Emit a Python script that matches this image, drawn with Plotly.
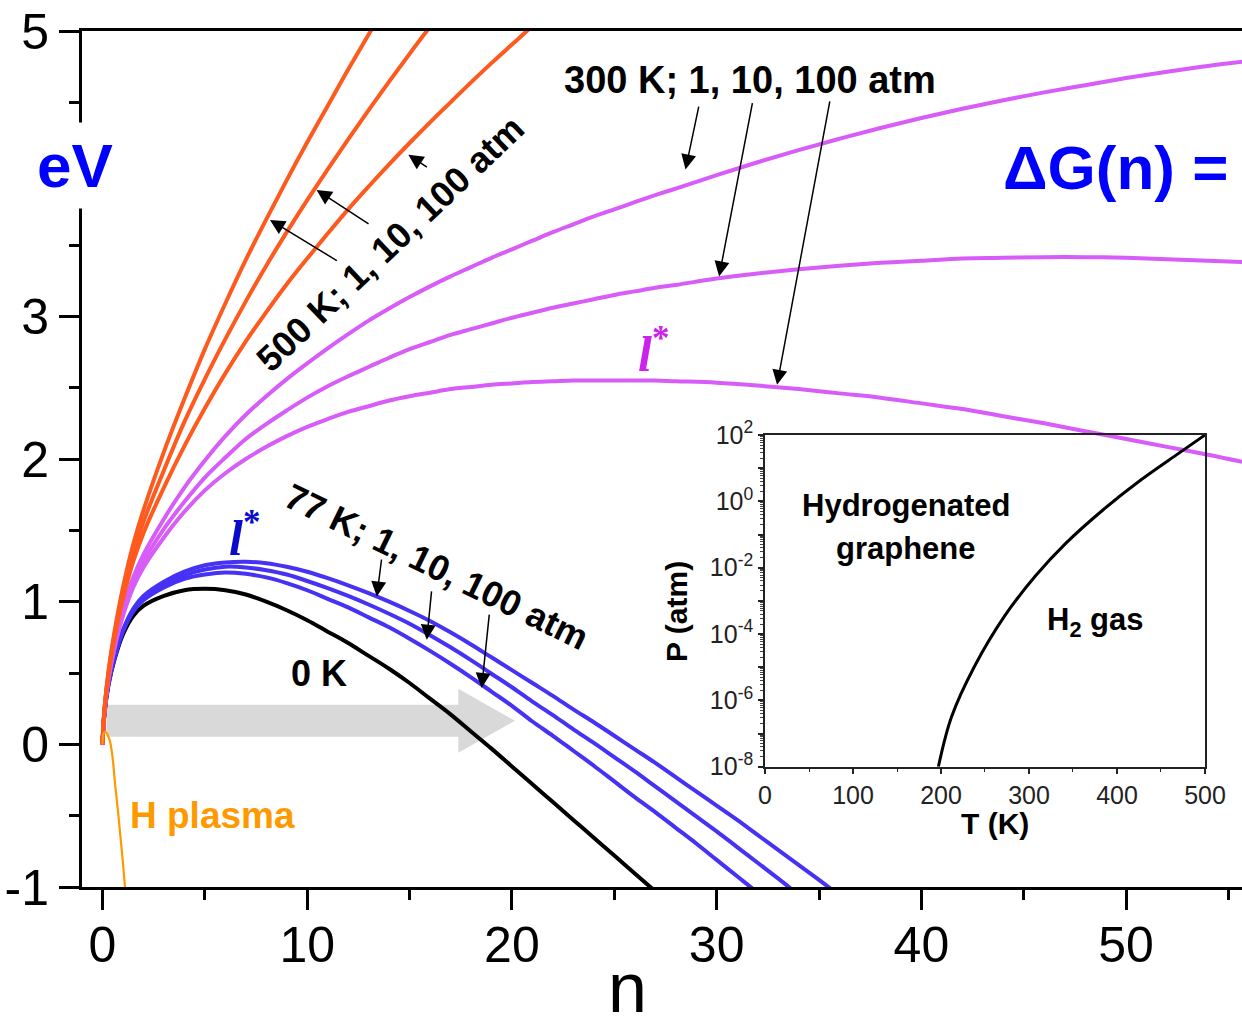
import plotly.graph_objects as go

# ---------------- data ----------------
N_0K = [0, 0.1, 0.3, 0.6, 1, 1.5, 2, 3, 4, 5, 6, 7, 8, 9, 10, 11, 12, 13, 14, 15,
        16, 17, 18, 19, 20, 21, 22, 23, 24, 25, 26, 27]
DG_0K = [0, 0.22, 0.42, 0.60, 0.77, 0.90, 0.97, 1.04, 1.08, 1.09, 1.08, 1.05, 1.00, 0.94,
         0.87, 0.79, 0.71, 0.62, 0.53, 0.43, 0.32, 0.21, 0.09, -0.03, -0.155, -0.28,
         -0.405, -0.53, -0.655, -0.78, -0.905, -1.03]

N_77K = [0, 0.1, 0.3, 0.6, 1, 1.5, 2, 3, 4, 5, 6, 7, 8, 9, 10, 11, 12, 13, 14, 15,
         16, 17, 18, 19, 20, 21, 22, 23, 24, 25, 26, 27, 28, 29, 30, 31, 32, 33, 34, 35, 36]
DG_77K_1ATM = [0, 0.22, 0.43, 0.62, 0.80, 0.95, 1.04, 1.14, 1.21, 1.255, 1.275, 1.28, 1.27,
               1.245, 1.21, 1.165, 1.115, 1.06, 1.00, 0.935, 0.865, 0.785, 0.70, 0.61, 0.52,
               0.43, 0.34, 0.245, 0.155, 0.06, -0.035, -0.13, -0.23, -0.33, -0.43, -0.53,
               -0.635, -0.74, -0.845, -0.95, -1.06]
DG_77K_10ATM = [0, 0.22, 0.43, 0.62, 0.80, 0.94, 1.03, 1.12, 1.185, 1.225, 1.245, 1.24,
                1.22, 1.19, 1.145, 1.095, 1.04, 0.98, 0.915, 0.845, 0.765, 0.68, 0.59, 0.495,
                0.40, 0.30, 0.205, 0.105, 0.01, -0.09, -0.19, -0.295, -0.40, -0.505, -0.61,
                -0.72, -0.83, -0.94, -1.055, -1.17, -1.28]
DG_77K_100ATM = [0, 0.22, 0.43, 0.61, 0.79, 0.93, 1.01, 1.10, 1.16, 1.19, 1.205, 1.195,
                 1.17, 1.13, 1.08, 1.02, 0.96, 0.89, 0.82, 0.74, 0.655, 0.565, 0.47, 0.37,
                 0.27, 0.16, 0.06, -0.045, -0.15, -0.26, -0.37, -0.475, -0.585, -0.695,
                 -0.81, -0.925, -1.04, -1.16, -1.28, -1.40, -1.52]

N_300K = [0, 0.1, 0.3, 0.6, 1, 1.5, 2, 3, 4, 5, 6, 7, 8, 9, 10, 11, 12, 13, 14, 15, 16,
          17, 18, 19, 20, 21, 22, 23, 24, 25, 26, 27, 28, 30, 32, 34, 36, 38, 40, 42, 44,
          46, 48, 50, 52, 54, 56]
DG_300K_1ATM = [0, 0.24, 0.47, 0.71, 0.95, 1.17, 1.33, 1.58, 1.80, 1.99, 2.16, 2.31, 2.44,
                2.56, 2.67, 2.775, 2.875, 2.97, 3.055, 3.135, 3.21, 3.28, 3.345, 3.41, 3.47,
                3.53, 3.59, 3.645, 3.70, 3.75, 3.80, 3.85, 3.895, 3.99, 4.08, 4.165, 4.245,
                4.32, 4.39, 4.455, 4.515, 4.57, 4.62, 4.67, 4.715, 4.755, 4.79]
DG_300K_10ATM = [0, 0.24, 0.47, 0.69, 0.93, 1.13, 1.28, 1.51, 1.70, 1.87, 2.01, 2.14, 2.245,
                 2.34, 2.43, 2.51, 2.58, 2.645, 2.71, 2.77, 2.82, 2.87, 2.91, 2.95, 2.99, 3.025,
                 3.06, 3.09, 3.12, 3.15, 3.175, 3.20, 3.22, 3.265, 3.30, 3.33, 3.355, 3.375,
                 3.39, 3.405, 3.41, 3.415, 3.415, 3.41, 3.40, 3.39, 3.38]
DG_300K_100ATM = [0, 0.23, 0.46, 0.68, 0.90, 1.10, 1.24, 1.45, 1.63, 1.78, 1.90, 2.00, 2.085,
                  2.16, 2.225, 2.28, 2.33, 2.37, 2.41, 2.44, 2.465, 2.49, 2.505, 2.52, 2.53,
                  2.54, 2.545, 2.55, 2.55, 2.55, 2.55, 2.55, 2.545, 2.535, 2.515, 2.49, 2.46,
                  2.43, 2.39, 2.35, 2.30, 2.25, 2.195, 2.14, 2.085, 2.03, 1.97]

N_500K_1ATM = [0, 0.1, 0.3, 0.6, 1, 1.5, 2, 3, 4, 5, 6, 7, 8, 9, 10, 11, 12, 13, 14]
DG_500K_1ATM = [0, 0.25, 0.52, 0.80, 1.10, 1.40, 1.64, 2.05, 2.42, 2.77, 3.09, 3.395, 3.68,
                3.955, 4.22, 4.475, 4.73, 4.975, 5.22]
N_500K_10ATM = [0, 0.1, 0.3, 0.6, 1, 1.5, 2, 3, 4, 5, 6, 7, 8, 9, 10, 11, 12, 13, 14, 15, 16, 17]
DG_500K_10ATM = [0, 0.25, 0.51, 0.78, 1.06, 1.34, 1.56, 1.92, 2.26, 2.56, 2.84, 3.105, 3.355,
                 3.59, 3.815, 4.03, 4.24, 4.445, 4.645, 4.84, 5.03, 5.21]
N_500K_100ATM = [0, 0.1, 0.3, 0.6, 1, 1.5, 2, 3, 4, 5, 6, 7, 8, 9, 10, 11, 12, 13, 14, 15,
                 16, 17, 18, 19, 20, 21, 22]
DG_500K_100ATM = [0, 0.25, 0.50, 0.75, 1.02, 1.28, 1.48, 1.80, 2.09, 2.355, 2.60, 2.825,
                  3.03, 3.225, 3.405, 3.58, 3.75, 3.91, 4.065, 4.215, 4.36, 4.50, 4.64,
                  4.775, 4.905, 5.035, 5.16]

N_PLASMA = [0, 0.04, 0.12, 0.2, 0.3, 0.37, 0.5, 0.61, 0.75, 0.86, 1.0, 1.1, 1.2]
DG_PLASMA = [0.0, 0.07, 0.09, 0.08, 0.05, 0.02, -0.10, -0.27, -0.46, -0.62, -0.83, -1.0, -1.17]

# inset: phase boundary
T_K = [197, 212, 238, 272, 307, 342, 384, 427, 470, 500]
P_ATM = [1e-8, 3.2e-7, 1.05e-5, 3.4e-4, 5.5e-3, 5.5e-2, 0.55, 4.4, 28, 100]

X_TICKS = [0, 10, 20, 30, 40, 50]
Y_TICKS = [-1, 0, 1, 2, 3, 4, 5]
Y_TICK_TEXT = ["-1", "0", "1", "2", "3", "", "5"]
INSET_X_TICKS = [0, 100, 200, 300, 400, 500]
INSET_Y_TICKS = [1e-8, 1e-7, 1e-6, 1e-5, 1e-4, 1e-3, 1e-2, 1e-1, 1e0, 1e1, 1e2]
INSET_Y_TEXT = ["10<sup>-8</sup>", "", "10<sup>-6</sup>", "", "10<sup>-4</sup>", "",
                "10<sup>-2</sup>", "", "10<sup>0</sup>", "", "10<sup>2</sup>"]

# ---------------- styles ----------------
FONT = "Liberation Sans, Arial, Helvetica, sans-serif"
C_RED = "#FF5A1E"
C_MAG = "#D85CF8"
C_BLUE = "#4632F5"
C_PLASMA = "#FF9900"

fig = go.Figure()


def add_line(x, y, color, width=4, xa="x", ya="y"):
    fig.add_trace(go.Scatter(x=x, y=y, mode="lines", xaxis=xa, yaxis=ya,
                             line=dict(color=color, width=width, shape="spline", smoothing=1.0),
                             hoverinfo="skip", showlegend=False))


add_line(N_0K, DG_0K, "black")
add_line(N_77K, DG_77K_100ATM, C_BLUE)
add_line(N_77K, DG_77K_10ATM, C_BLUE)
add_line(N_77K, DG_77K_1ATM, C_BLUE)
add_line(N_300K, DG_300K_100ATM, C_MAG)
add_line(N_300K, DG_300K_10ATM, C_MAG)
add_line(N_300K, DG_300K_1ATM, C_MAG)
add_line(N_500K_100ATM, DG_500K_100ATM, C_RED)
add_line(N_500K_10ATM, DG_500K_10ATM, C_RED)
add_line(N_500K_1ATM, DG_500K_1ATM, C_RED)
add_line(N_PLASMA, DG_PLASMA, C_PLASMA, width=2.2)
add_line(T_K, P_ATM, "black", width=3, xa="x2", ya="y2")

# big grey arrow (behind curves)
fig.add_shape(type="path", xref="x", yref="y", layer="below",
              path="M 0.2,0.053 L 17.38,0.053 L 17.38,-0.059 L 20.15,0.165 L 17.38,0.39 "
                   "L 17.38,0.278 L 0.2,0.278 Z",
              fillcolor="#D9D9D9", line=dict(width=0))

ann = []


def txt(x, y, s, size, color="black", bold=True, angle=0, family=FONT):
    ann.append(dict(x=x, y=y, xref="x", yref="y", text=("<b>%s</b>" % s) if bold else s,
                    showarrow=False, textangle=angle, xanchor="center", yanchor="middle",
                    font=dict(family=family, size=size, color=color)))


def arrow(tx, ty, hx, hy):
    ann.append(dict(x=hx, y=hy, ax=tx, ay=ty, xref="x", yref="y", axref="x", ayref="y",
                    text="", showarrow=True, arrowhead=2, arrowsize=2.0, arrowwidth=1.5,
                    arrowcolor="black", standoff=0, startstandoff=0))


def ptxt(px, py, s, size, angle=0, color="black", bold=True, family=FONT, **kw):
    ann.append(dict(x=(px - 82) / 1160, y=(887 - py) / 856, xref="paper", yref="paper",
                    text=("<b>%s</b>" % s) if bold else s, showarrow=False, textangle=angle,
                    xanchor="center", yanchor="middle",
                    font=dict(family=family, size=size, color=color), **kw))


txt(31.63, 4.66, "300 K; 1, 10, 100 atm", 38)
txt(14.05, 3.51, "500 K; 1, 10, 100 atm", 36, angle=-43.5)
txt(16.32, 1.25, "77 K; 1, 10, 100 atm", 36, angle=26)
txt(10.58, 0.50, "0 K", 36)
txt(5.37, -0.50, "H plasma", 37, color=C_PLASMA)
txt(49.47, 4.04, "\u0394G(n) =", 62, color="#0000FF")
txt(26.9, 2.76, "<i>l</i><sup>*</sup>", 50, color="#CC22EE",
    family="Liberation Serif, Times New Roman, serif")
txt(6.96, 1.47, "<i>l</i><sup>*</sup>", 50, color="#0A0ACC",
    family="Liberation Serif, Times New Roman, serif")

# eV label with white box hiding the axis, and the axis title n
ptxt(75, 165, "eV", 62, color="#0000FF", bgcolor="white", borderpad=8)
ptxt(627, 988, "n", 70, bold=False)

# arrows
arrow(29.14, 4.48, 28.48, 4.03)
arrow(31.76, 4.505, 30.12, 3.28)
arrow(35.54, 4.517, 32.95, 2.52)
arrow(11.52, 3.384, 8.18, 3.676)
arrow(13.07, 3.641, 10.46, 3.886)
arrow(15.92, 4.039, 14.94, 4.132)
arrow(13.64, 1.306, 13.40, 1.036)
arrow(16.08, 1.083, 15.84, 0.733)
arrow(18.90, 0.920, 18.52, 0.395)

# inset labels
ptxt(676, 612, "P (atm)", 30, angle=-90)
ptxt(995, 823, "T (K)", 30)
ptxt(906, 505, "Hydrogenated", 31)
ptxt(906, 548, "graphene", 31)
ptxt(1095, 622, "H<sub>2</sub> gas", 31)

minor_log = [m * 10.0 ** k for k in range(-8, 2) for m in range(2, 10)]

fig.update_layout(
    template="none",
    width=1242, height=1020,
    margin=dict(l=82, r=0, t=31, b=133, autoexpand=False),
    paper_bgcolor="white", plot_bgcolor="rgba(0,0,0,0)",
    showlegend=False,
    annotations=ann,
    xaxis=dict(range=[-1.0, 55.66], domain=[0, 1], anchor="y", automargin=False,
               tickmode="array", tickvals=X_TICKS, ticks="outside", ticklen=20, tickwidth=3,
               tickcolor="black", showline=True, linewidth=3, linecolor="black", mirror=True,
               minor=dict(tickmode="array", tickvals=[5, 15, 25, 35, 45, 55], ticks="outside",
                          ticklen=10, tickwidth=3, tickcolor="black"),
               showgrid=False, zeroline=False, ticklabelstandoff=-8,
               tickfont=dict(family=FONT, size=50, color="black")),
    yaxis=dict(range=[-1, 5], domain=[0, 1], anchor="x", automargin=False,
               tickmode="array", tickvals=Y_TICKS, ticktext=Y_TICK_TEXT,
               ticks="outside", ticklen=20, tickwidth=3, tickcolor="black",
               showline=True, linewidth=3, linecolor="black", mirror=False,
               minor=dict(tickmode="array", tickvals=[-0.5, 0.5, 1.5, 2.5, 3.5, 4.5],
                          ticks="outside", ticklen=10, tickwidth=3, tickcolor="black"),
               showgrid=False, zeroline=False,
               tickfont=dict(family=FONT, size=50, color="black")),
    xaxis2=dict(range=[0, 500], domain=[0.5888, 0.9681], anchor="y2", automargin=False,
                tickmode="array", tickvals=INSET_X_TICKS, ticks="outside", ticklen=5,
                tickwidth=1.5, tickcolor="#222",
                minor=dict(tickmode="array", tickvals=[50, 150, 250, 350, 450], ticks="outside",
                           ticklen=3, tickwidth=1.2, tickcolor="#222"),
                showline=True, linewidth=1.6, linecolor="#222", mirror=True,
                showgrid=False, zeroline=False,
                tickfont=dict(family=FONT, size=25, color="#222")),
    yaxis2=dict(type="log", range=[-8, 2], domain=[0.1405, 0.5280], anchor="x2",
                automargin=False,
                tickmode="array", tickvals=INSET_Y_TICKS, ticktext=INSET_Y_TEXT,
                ticks="outside", ticklen=5, tickwidth=1.5, tickcolor="#222",
                minor=dict(tickmode="array", tickvals=minor_log, ticks="outside",
                           ticklen=3, tickwidth=1, tickcolor="#444"),
                showline=True, linewidth=1.6, linecolor="#222", mirror=True,
                showgrid=False, zeroline=False,
                tickfont=dict(family=FONT, size=25, color="#222")),
)

fig.write_html("out.html", config={"displayModeBar": False},
               post_script="document.body.style.margin='0px';")
